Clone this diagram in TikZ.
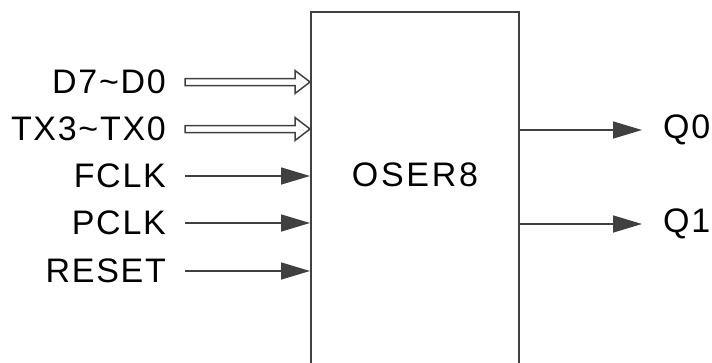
\documentclass[tikz,border=0pt]{standalone}
\usepackage{fontspec}
\setmainfont{Liberation Sans}
\newfontfamily\lblfont{Liberation Sans}[LetterSpace=5]
\newfontfamily\boxfont{Liberation Sans}[LetterSpace=8]
\usetikzlibrary{arrows.meta,calc}
\definecolor{ln}{HTML}{404040}
\tikzset{
  lbl/.style={inner sep=0pt, font=\lblfont\fontsize{34}{40}\selectfont},
  sig/.style={draw=ln, line width=1.6pt, -{Triangle[length=29pt,width=17pt]}},
  bus/.style={draw=ln, line width=1.5pt, fill=white, line join=miter},
  blk/.style={draw=ln, line width=2.2pt, fill=none, inner sep=0pt}
}
\begin{document}
\begin{tikzpicture}[x=1pt,y=-1pt]
\useasboundingbox (0,0) rectangle (712,362);
\node[blk, minimum width=208pt, minimum height=380pt, anchor=north west] (oser) at (310,11) {};
\node[font=\boxfont\fontsize{34}{40}\selectfont, inner sep=0pt] (name) at (415,175) {OSER8};
% input labels
\node[lbl, anchor=east] (d) at (166,82) {D7\char`\~D0};
\node[lbl, anchor=east] (tx) at (166,129) {TX3\char`\~TX0};
\node[lbl, anchor=east] (fclk) at (166,176) {FCLK};
\node[lbl, anchor=east] (pclk) at (166,223) {PCLK};
\node[lbl, anchor=east] (reset) at (166,271) {RESET};
% output labels
\node[lbl, anchor=west] (q0) at (663,130) {Q0};
\node[lbl, anchor=west] (q1) at (663,224) {Q1};
% bus (hollow) arrows
\foreach \n in {d,tx}{
  \coordinate (s) at ($(\n.east)+(19,0)$);
  \coordinate (e) at (\n.east -| oser.west);
  \path[bus] ($(s)+(0,-3.5)$) -- ($(e)+(-15,-3.5)$) -- ($(e)+(-15,-11.5)$) -- (e)
    -- ($(e)+(-15,11.5)$) -- ($(e)+(-15,3.5)$) -- ($(s)+(0,3.5)$) -- cycle;
}
% single signal arrows
\foreach \n in {fclk,pclk,reset}{
  \draw[sig] ($(\n.east)+(19,0)$) -- (\n.east -| oser.west);
}
% outputs
\draw[sig] (q0.west -| oser.east) -- ($(q0.west)+(-21,0)$);
\draw[sig] (q1.west -| oser.east) -- ($(q1.west)+(-21,0)$);
\end{tikzpicture}
\end{document}
